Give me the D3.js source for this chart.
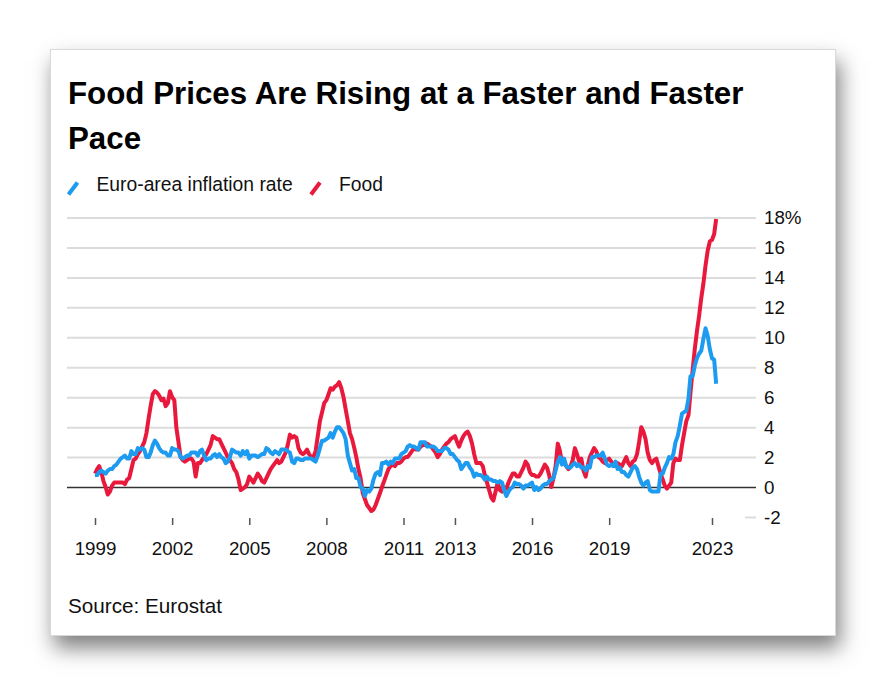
<!DOCTYPE html>
<html>
<head>
<meta charset="utf-8">
<script src="https://cdn.jsdelivr.net/npm/d3@7"></script>
<style>
body { margin: 0; background: #fff; font-family: "Liberation Sans", Arial, sans-serif; }
#card {
    position: absolute; left: 50px; top: 49px; width: 786px; height: 587px;
    box-sizing: border-box; background: #fff; border: 1px solid #d9d9d9;
    box-shadow: 4px 12px 20px rgba(0,0,0,0.5);
}
#chart { position: absolute; left: 0; top: 0; }
</style>
</head>
<body>
<div id="card"></div>
<div id="chart"></div>
<script>
//width and height
var chart_width = 886;
var chart_height = 686;

//Data: monthly year-on-year rates, Jan 1999 - Mar 2023
var start_year = 1999;

var euro_area = [
    0.8,0.8,1.0,1.1,1.0,0.9,1.1,1.2,1.2,1.4,1.5,1.7,   //1999
    1.9,2.0,2.1,1.9,1.9,2.4,2.2,2.2,2.6,2.5,2.6,2.5,   //2000
    2.0,2.0,2.3,2.8,3.1,2.9,2.6,2.4,2.3,2.3,2.1,2.1,   //2001
    2.6,2.5,2.5,2.4,2.0,1.9,2.0,2.1,2.1,2.3,2.3,2.3,   //2002
    2.1,2.4,2.5,2.1,1.8,1.9,1.9,2.1,2.2,2.0,2.2,2.0,   //2003
    1.9,1.6,1.7,2.0,2.5,2.4,2.3,2.3,2.1,2.4,2.2,2.4,   //2004
    1.9,2.1,2.1,2.1,2.0,2.1,2.2,2.2,2.6,2.5,2.3,2.2,   //2005
    2.4,2.3,2.2,2.5,2.5,2.5,2.4,2.3,1.7,1.6,1.9,1.9,   //2006
    1.8,1.8,1.9,1.9,1.9,1.9,1.8,1.7,2.1,2.6,3.1,3.1,   //2007
    3.2,3.3,3.6,3.3,3.7,4.0,4.0,3.8,3.6,3.2,2.1,1.6,   //2008
    1.1,1.2,0.6,0.6,0.0,-0.1,-0.6,-0.2,-0.3,-0.1,0.5,0.9, //2009
    1.0,0.8,1.6,1.6,1.7,1.5,1.7,1.6,1.9,1.9,1.9,2.2,   //2010
    2.3,2.4,2.7,2.8,2.7,2.7,2.6,2.5,3.0,3.0,3.0,2.7,   //2011
    2.7,2.7,2.7,2.6,2.4,2.4,2.4,2.6,2.6,2.5,2.2,2.2,   //2012
    2.0,1.8,1.7,1.2,1.4,1.6,1.6,1.3,1.1,0.7,0.9,0.8,   //2013
    0.8,0.7,0.5,0.7,0.5,0.5,0.4,0.4,0.3,0.4,0.3,-0.2,  //2014
    -0.6,-0.3,-0.1,0.0,0.3,0.2,0.2,0.1,-0.1,0.1,0.1,0.2, //2015
    0.3,-0.2,0.0,-0.2,-0.1,0.1,0.2,0.2,0.4,0.5,0.6,1.1, //2016
    1.7,2.0,1.5,1.9,1.4,1.3,1.3,1.5,1.6,1.4,1.5,1.3,   //2017
    1.3,1.1,1.4,1.3,2.0,2.0,2.1,2.1,2.1,2.3,1.9,1.5,   //2018
    1.4,1.5,1.4,1.7,1.2,1.3,1.0,1.0,0.8,0.7,1.0,1.3,   //2019
    1.4,1.2,0.7,0.3,0.1,0.3,0.4,-0.2,-0.3,-0.3,-0.3,-0.3, //2020
    0.9,0.9,1.3,1.6,2.0,1.9,2.2,3.0,3.4,4.1,4.9,5.0,   //2021
    5.1,5.9,7.4,7.4,8.1,8.6,8.9,9.1,9.9,10.6,10.1,9.2, //2022
    8.6,8.5,6.9                                        //2023
];

var food = [
    0.9,1.2,1.4,1.0,0.4,0.0,-0.5,-0.3,0.1,0.3,0.3,0.3, //1999
    0.3,0.3,0.2,0.5,0.6,1.2,1.8,1.9,2.2,2.4,2.7,3.0,   //2000
    3.6,4.6,5.4,6.2,6.4,6.3,6.1,5.8,5.9,5.4,5.6,6.4,   //2001
    6.0,5.8,4.0,3.0,2.0,1.8,1.7,1.8,1.9,1.9,1.7,0.7,   //2002
    1.6,1.6,1.8,2.0,2.2,2.5,2.8,3.4,3.3,3.2,3.2,2.9,   //2003
    2.6,2.3,2.0,1.8,1.6,1.2,1.0,0.5,-0.2,-0.1,0.0,0.2, //2004
    0.7,0.5,0.3,0.6,0.9,0.7,0.4,0.3,0.6,0.9,1.2,1.4,   //2005
    1.6,1.8,1.6,1.7,2.0,2.3,2.8,3.5,3.3,3.4,3.3,2.6,   //2006
    2.3,2.2,2.3,2.5,2.2,2.0,2.0,2.4,3.4,4.4,5.0,5.6,   //2007
    5.8,6.2,6.6,6.5,6.7,6.8,7.0,6.6,6.0,5.2,4.4,3.6,   //2008
    3.2,2.6,2.0,1.2,0.6,-0.4,-0.8,-1.2,-1.4,-1.6,-1.5,-1.2, //2009
    -0.8,-0.4,0.0,0.4,0.8,1.2,1.4,1.5,1.4,1.6,1.6,1.7, //2010
    1.9,2.0,2.0,2.2,2.4,2.6,2.5,2.5,2.7,2.8,2.8,2.9,   //2011
    2.8,2.7,2.5,2.3,2.0,2.2,2.5,2.7,2.9,3.0,3.2,3.3,   //2012
    3.4,3.0,2.7,3.1,3.4,3.6,3.7,3.4,2.9,2.2,1.6,1.6,   //2013
    1.6,1.4,0.8,0.3,-0.2,-0.7,-0.9,-0.3,0.3,-0.2,-0.3,-0.1, //2014
    -0.1,0.3,0.6,0.9,0.9,0.7,0.7,1.0,1.3,1.7,1.5,1.0,  //2015
    0.8,0.8,0.7,0.7,0.9,1.2,1.5,1.3,0.8,0.0,0.6,1.4,   //2016
    2.9,2.4,1.6,1.6,1.4,1.2,1.4,1.8,2.6,2.2,1.7,1.9,   //2017
    1.1,0.7,1.4,2.0,2.3,2.6,2.4,2.0,1.9,1.7,1.6,1.8,   //2018
    1.9,1.7,1.5,1.4,1.6,1.5,1.4,1.7,2.0,1.6,1.4,1.7,   //2019
    1.8,2.2,3.0,4.0,3.7,3.2,2.3,1.8,1.6,1.8,1.9,1.4,   //2020
    0.9,0.5,0.1,-0.1,0.1,0.3,1.6,1.9,1.8,1.8,2.8,3.6,  //2021
    4.4,4.8,6.3,7.8,9.2,10.4,11.4,12.6,13.6,14.8,15.8,16.4, //2022
    16.5,16.9,17.9                                     //2023
];

var y_ticks = [-2, 0, 2, 4, 6, 8, 10, 12, 14, 16, 18];
var x_tick_years = [1999, 2002, 2005, 2008, 2011, 2013, 2016, 2019, 2023];

var series_names = ['Euro-area inflation rate', 'Food'];
var series_colors = ['#1d9bf0', '#e8193c'];

var months = euro_area.map(function(d, i){
    return new Date(start_year, i, 1);
});

//Scales
var x = d3.scaleTime()
          .domain([new Date(1999, 0, 1), new Date(2023, 0, 1)])
          .range([95, 712]);

var y = d3.scaleLinear()
          .domain([-2, 18])
          .range([517, 217.5]);

var plot_left = 67;
var plot_right = 756;

var svg = d3.select("#chart")
            .append("svg")
            .attr("width", chart_width)
            .attr("height", chart_height)
            .style("font-family", '"Liberation Sans", Arial, sans-serif');

//Title
var title = svg.append('text')
    .attr('x', 68)
    .attr('y', 104)
    .attr('font-size', 31.3)
    .attr('font-weight', 'bold')
    .attr('fill', '#000');
title.append('tspan').attr('x', 68).attr('y', 104)
    .text('Food Prices Are Rising at a Faster and Faster');
title.append('tspan').attr('x', 68).attr('y', 149)
    .text('Pace');

//Legend
var legend_x = [68, 310.5];
var legend = svg.selectAll('g.legend')
    .data(series_names)
    .enter()
    .append('g')
    .attr('class', 'legend')
    .attr('transform', function(d, i){
        return 'translate(' + legend_x[i] + ',0)';
    });

legend.append('line')
    .attr('x1', 0.5).attr('y1', 194.5)
    .attr('x2', 9.5).attr('y2', 182.5)
    .attr('stroke', function(d, i){ return series_colors[i]; })
    .attr('stroke-width', 4)
    .attr('stroke-linecap', 'butt');

legend.append('text')
    .attr('x', 28.5)
    .attr('y', 191)
    .attr('font-size', 19.3)
    .attr('fill', '#111')
    .text(function(d){ return d; });

//Y axis with gridlines
var y_axis = d3.axisRight(y)
    .tickValues(y_ticks)
    .tickSizeInner(-(plot_right - plot_left))
    .tickSizeOuter(0)
    .tickPadding(8)
    .tickFormat(function(d){
        return d === 18 ? '18%' : d;
    });

var y_g = svg.append('g')
    .attr('transform', 'translate(' + plot_right + ',0)')
    .call(y_axis);

y_g.select('.domain').remove();
y_g.selectAll('line')
    .attr('stroke', '#dcdcdc')
    .attr('stroke-width', 2);
y_g.selectAll('text')
    .attr('font-size', 18.75)
    .attr('font-family', '"Liberation Sans", Arial, sans-serif')
    .attr('fill', '#111');

//-2 gridline only shows as a short stub
y_g.selectAll('.tick')
    .filter(function(d){ return d === -2; })
    .select('line')
    .attr('x2', -11);

//zero line
y_g.selectAll('.tick')
    .filter(function(d){ return d === 0; })
    .select('line')
    .attr('stroke', '#333')
    .attr('stroke-width', 1.5);

//X axis
var x_axis = d3.axisBottom(x)
    .tickValues(x_tick_years.map(function(yr){ return new Date(yr, 0, 1); }))
    .tickSizeInner(7)
    .tickSizeOuter(0)
    .tickPadding(17)
    .tickFormat(d3.timeFormat('%Y'));

var x_g = svg.append('g')
    .attr('transform', 'translate(0,518)')
    .call(x_axis);

x_g.select('.domain').remove();
x_g.selectAll('line')
    .attr('stroke', '#555')
    .attr('stroke-width', 1.5);
x_g.selectAll('text')
    .attr('font-size', 18.75)
    .attr('font-family', '"Liberation Sans", Arial, sans-serif')
    .attr('fill', '#111');

//Lines
var line = d3.line()
    .x(function(d, i){ return x(months[i]); })
    .y(function(d){ return y(d); });

var lines = svg.append('g');

lines.append('path')
    .datum(food)
    .attr('d', line)
    .attr('fill', 'none')
    .attr('stroke', series_colors[1])
    .attr('stroke-width', 4)
    .attr('stroke-linejoin', 'round');

lines.append('path')
    .datum(euro_area)
    .attr('d', line)
    .attr('fill', 'none')
    .attr('stroke', series_colors[0])
    .attr('stroke-width', 4)
    .attr('stroke-linejoin', 'round');

//Source
svg.append('text')
    .attr('x', 68)
    .attr('y', 613)
    .attr('font-size', 20.7)
    .attr('fill', '#111')
    .text('Source: Eurostat');
</script>
</body>
</html>
